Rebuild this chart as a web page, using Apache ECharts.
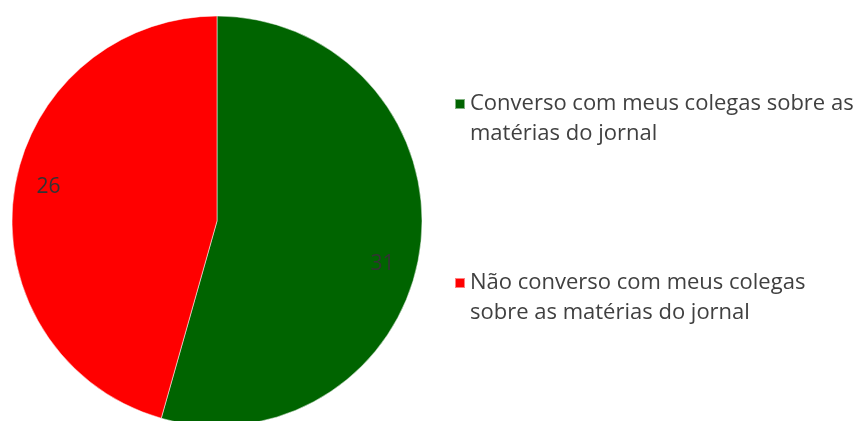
<!DOCTYPE html>
<html>
<head>
<meta charset="utf-8">
<script src="https://cdn.jsdelivr.net/npm/echarts@6/dist/echarts.min.js"></script>
<style>
  html, body { margin: 0; padding: 0; background: #ffffff; }
  #chart { width: 860px; height: 421px; }
</style>
</head>
<body>
<div id="chart"></div>
<script>
// Answers: talks with colleagues about newspaper stories
const categories = [
  'Converso com meus colegas sobre as\nmatérias do jornal',
  'Não converso com meus colegas\nsobre as matérias do jornal'
];
const values = [31, 26];
const colors = ['#006400', '#FF0000'];

const LINE_H = 30;

const chart = echarts.init(document.getElementById('chart'), null, { renderer: 'canvas' });

chart.setOption({
  animation: false,
  color: colors,
  legend: {
    orient: 'vertical',
    left: 454,
    top: 59,
    padding: 0,
    itemGap: 89,
    itemWidth: 10,
    itemHeight: 10,
    icon: 'rect',
    // leading blank line keeps the marker level with the first text line
    formatter: name => '\n' + name,
    textStyle: {
      fontFamily: '"Open Sans", sans-serif',
      fontSize: 22,
      color: '#404040',
      lineHeight: LINE_H
    }
  },
  series: [{
    type: 'pie',
    center: [217, 221],
    radius: 205,
    startAngle: 90,
    clockwise: true,
    silent: true,
    itemStyle: { borderColor: 'rgba(255,255,255,0.5)', borderWidth: 1 },
    label: {
      show: true,
      position: 'inside',
      formatter: '{c}',
      fontFamily: '"Open Sans", sans-serif',
      fontSize: 21,
      color: '#333333'
    },
    labelLine: { show: false },
    data: categories.map((name, i) => ({
      name: name,
      value: values[i],
      label: { offset: i === 0 ? [61, 29] : [-64, -19] }
    }))
  }]
});
</script>
</body>
</html>
